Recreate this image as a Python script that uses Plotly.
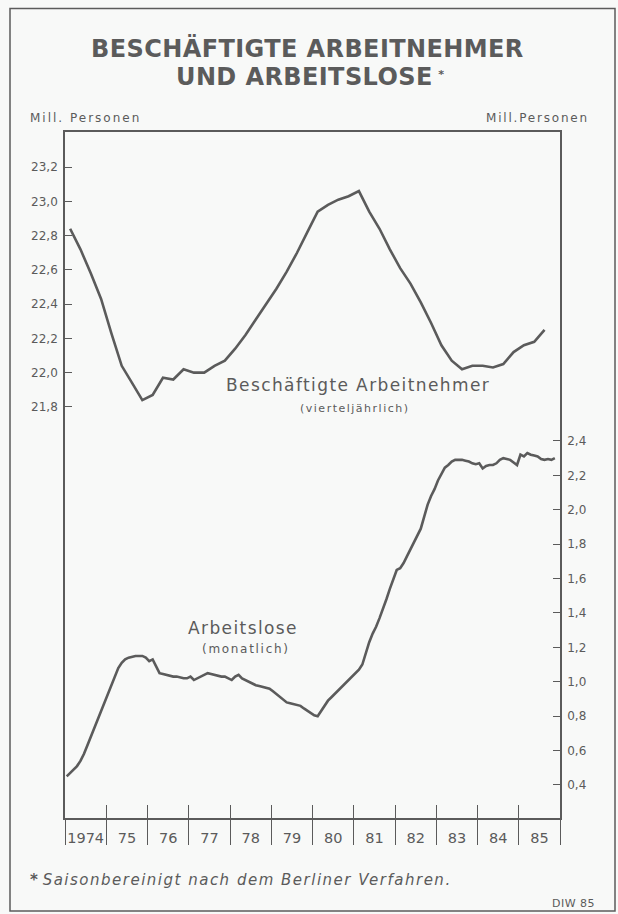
import plotly.graph_objects as go

# ---------------- data ----------------
year_labels = ["1974", "75", "76", "77", "78", "79", "80", "81", "82", "83", "84", "85"]
first_year = 1974

# Beschäftigte Arbeitnehmer, quarterly, 1974 Q1 .. 1985 Q3 (Mill. Personen)
employees = [
    22.84, 22.72, 22.58, 22.43,
    22.23, 22.04, 21.94, 21.84,
    21.87, 21.97, 21.96, 22.02,
    22.00, 22.00, 22.04, 22.07,
    22.14, 22.22, 22.31, 22.40,
    22.49, 22.59, 22.70, 22.82,
    22.94, 22.98, 23.01, 23.03,
    23.06, 22.94, 22.84, 22.72,
    22.61, 22.52, 22.41, 22.29,
    22.16, 22.07, 22.02, 22.04,
    22.04, 22.03, 22.05, 22.12,
    22.16, 22.18, 22.25,
]

# Arbeitslose, monthly, Jan 1974 .. Nov 1985 (Mill. Personen)
unemployed = [
    0.45, 0.47, 0.49, 0.51, 0.54, 0.58, 0.63, 0.68, 0.73, 0.79, 0.84, 0.88,   # 1974
    0.93, 0.98, 1.03, 1.08, 1.11, 1.13, 1.14, 1.145, 1.15, 1.15, 1.15, 1.14,  # 1975
    1.12, 1.13, 1.09, 1.05, 1.045, 1.04, 1.035, 1.03, 1.03, 1.025, 1.02, 1.02,  # 1976
    1.03, 1.01, 1.02, 1.03, 1.04, 1.05, 1.045, 1.04, 1.035, 1.03, 1.03, 1.02,  # 1977
    1.01, 1.03, 1.04, 1.02, 1.01, 1.00, 0.99, 0.98, 0.975, 0.97, 0.965, 0.96,  # 1978
    0.945, 0.93, 0.91, 0.90, 0.88, 0.875, 0.87, 0.865, 0.86, 0.845, 0.83, 0.815,  # 1979
    0.805, 0.80, 0.83, 0.86, 0.89, 0.91, 0.93, 0.95, 0.97, 0.99, 1.01, 1.03,  # 1980
    1.05, 1.07, 1.10, 1.17, 1.23, 1.28, 1.32, 1.37, 1.42, 1.48, 1.54, 1.59,  # 1981
    1.65, 1.66, 1.69, 1.73, 1.77, 1.81, 1.85, 1.89, 1.96, 2.03, 2.08, 2.12,  # 1982
    2.17, 2.21, 2.245, 2.26, 2.28, 2.29, 2.29, 2.29, 2.285, 2.28, 2.27, 2.265,  # 1983
    2.27, 2.24, 2.255, 2.26, 2.26, 2.27, 2.29, 2.30, 2.295, 2.29, 2.275, 2.26,  # 1984
    2.32, 2.31, 2.33, 2.32, 2.315, 2.31, 2.295, 2.29, 2.295, 2.29, 2.30,  # 1985
]

left_ticks = [21.8, 22.0, 22.2, 22.4, 22.6, 22.8, 23.0, 23.2]
right_ticks = [0.4, 0.6, 0.8, 1.0, 1.2, 1.4, 1.6, 1.8, 2.0, 2.2, 2.4]

# ---------------- styling ----------------
W, H = 618, 914
L, R, T, B = 65, 560, 131.5, 818
INK = "#5b5b5b"
BG = "#f8f9f8"
FONT = "'DejaVu Sans', Roboto, sans-serif"


def px(x, y):
    """pixel position -> paper coordinates"""
    return (x - L) / (R - L), (B - y) / (B - T)


def spaced(text, ls):
    return f"<span style='letter-spacing:{ls}px'>{text}</span>"


emp_x = [first_year + (i + 0.5) / 4 for i in range(len(employees))]
unemp_x = [first_year + (i + 0.5) / 12 for i in range(len(unemployed))]
n_years = len(year_labels)
x_range = [first_year, first_year + n_years]

fig = go.Figure()
fig.add_trace(go.Scatter(x=emp_x, y=employees, mode="lines", xaxis="x", yaxis="y",
                         line=dict(color=INK, width=2.6), showlegend=False, hoverinfo="skip"))
fig.add_trace(go.Scatter(x=unemp_x, y=unemployed, mode="lines", xaxis="x", yaxis="y2",
                         line=dict(color=INK, width=2.6), showlegend=False, hoverinfo="skip"))

fmt = lambda v: f"{v:.1f}".replace(".", ",")

fig.update_layout(
    width=W, height=H,
    margin=dict(l=L, r=W - R, t=T, b=H - B),
    paper_bgcolor=BG, plot_bgcolor=BG,
    font=dict(family=FONT, color=INK),
    showlegend=False,
    xaxis=dict(
        range=x_range, showgrid=False, zeroline=False,
        showline=True, linecolor=INK, linewidth=1.6, mirror=True,
        tickmode="array",
        tickvals=[first_year + i + 0.5 for i in range(n_years)],
        ticktext=year_labels, ticks="",
        tickfont=dict(size=14.5, color=INK, family=FONT),
        ticklabelstandoff=6,
    ),
    xaxis2=dict(
        overlaying="x", anchor="y", side="bottom", range=x_range,
        showgrid=False, zeroline=False, showline=False, showticklabels=False,
        tickmode="array", tickvals=[first_year + i for i in range(n_years + 1)],
        ticks="outside", ticklen=26, tickwidth=1.4, tickcolor=INK,
    ),
    xaxis3=dict(
        overlaying="x", anchor="y", side="bottom", range=x_range,
        showgrid=False, zeroline=False, showline=False, showticklabels=False,
        tickmode="array", tickvals=[first_year + i for i in range(1, n_years)],
        ticks="inside", ticklen=13, tickwidth=1.4, tickcolor=INK,
    ),
    yaxis=dict(
        range=[19.40, 23.405], showgrid=False, zeroline=False,
        showline=True, linecolor=INK, linewidth=1.6, side="left",
        tickmode="array", tickvals=left_ticks, ticktext=[fmt(v) for v in left_ticks],
        ticks="inside", ticklen=7, tickwidth=1.4, tickcolor=INK,
        tickfont=dict(size=12, color=INK, family=FONT),
        ticklabelstandoff=3,
    ),
    yaxis2=dict(
        overlaying="y", side="right", anchor="x",
        range=[0.208, 4.196], showgrid=False, zeroline=False,
        showline=True, linecolor=INK, linewidth=1.6,
        tickmode="array", tickvals=right_ticks, ticktext=[fmt(v) for v in right_ticks],
        ticks="inside", ticklen=7, tickwidth=1.4, tickcolor=INK,
        tickfont=dict(size=12, color=INK, family=FONT),
        ticklabelstandoff=3,
    ),
)

# empty traces so the overlay tick axes are drawn
fig.add_trace(go.Scatter(x=[], y=[], xaxis="x2", yaxis="y", showlegend=False))
fig.add_trace(go.Scatter(x=[], y=[], xaxis="x3", yaxis="y", showlegend=False))


def note(text, x, y, size, xanchor="center", bold=False, family=FONT, color=INK):
    ax, ay = px(x, y)
    fig.add_annotation(text=f"<b>{text}</b>" if bold else text, x=ax, y=ay,
                       xref="paper", yref="paper", xanchor=xanchor, yanchor="middle",
                       showarrow=False, font=dict(size=size, family=family, color=color))


note(spaced("BESCHÄFTIGTE ARBEITNEHMER", 0.4), 307, 48, 24, bold=True)
note(spaced("UND ARBEITSLOSE", 0.4) + "<span style='font-size:16px'> <sup>*</sup></span>",
     310, 76, 24, bold=True)
note(spaced("Mill. Personen", 2.0), 28, 117, 12, xanchor="left")
note(spaced("Mill.Personen", 1.8), 591, 117, 12, xanchor="right")
note(spaced("Beschäftigte Arbeitnehmer", 1.4), 358, 385, 17)
note(spaced("(vierteljährlich)", 1.5), 355, 408, 11)
note(spaced("Arbeitslose", 1.4), 243, 628, 17)
note(spaced("(monatlich)", 1.7), 246, 649, 12)
note("<b>*</b> " + spaced("<i>Saisonbereinigt nach dem Berliner Verfahren.</i>", 1.5),
     28, 880, 15, xanchor="left")
note(spaced("DIW 85", 0.5), 597, 904, 11, xanchor="right")

# outer frame
fx0, fy0 = px(10, 911)
fx1, fy1 = px(615, 8)
fig.add_shape(type="rect", xref="paper", yref="paper", x0=fx0, y0=fy0, x1=fx1, y1=fy1,
              line=dict(color=INK, width=1.5), fillcolor="rgba(0,0,0,0)", layer="below")

fig.write_html("out.html", config={"displayModeBar": False},
               post_script="document.body.style.margin='0';")
